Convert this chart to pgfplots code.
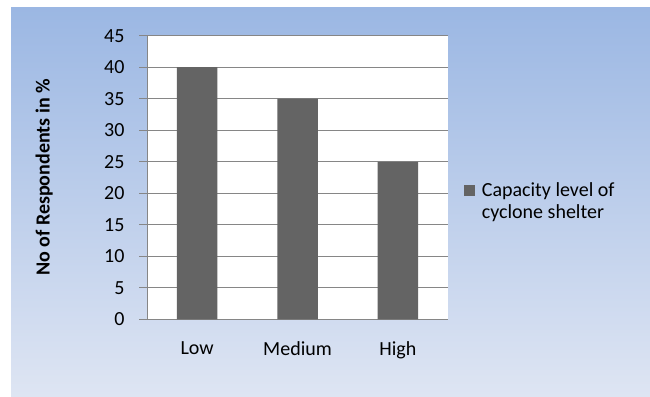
\documentclass[border=0pt]{standalone}
\usepackage{fontspec}
\setmainfont{Carlito}
\usepackage{pgfplots}
\pgfplotsset{compat=1.18}

\definecolor{bgtop}{RGB}{155,183,227}
\definecolor{bgbot}{RGB}{222,229,243}
\definecolor{barcol}{RGB}{100,100,100}
\definecolor{gridcol}{RGB}{134,134,134}

\newcommand{\chartfont}{\fontsize{20bp}{24bp}\selectfont}

\begin{document}
\begin{tikzpicture}[x=1bp,y=1bp]
  \useasboundingbox (0,0) rectangle (650,-396);
  % chart area background
  \shade[top color=bgtop, bottom color=bgbot] (11,-7) rectangle (650,-396);
  \begin{axis}[
    at={(147bp,-319.3bp)}, anchor=south west,
    scale only axis, width=301bp, height=283.6bp,
    ymin=0, ymax=45, ytick={0,5,...,45},
    xmin=-0.5, xmax=2.5,
    xtick={0,1,2}, xticklabels={Low,Medium,High},
    axis x line*=bottom, axis y line*=left,
    axis line style={draw=gridcol, line width=1bp, -},
    ymajorgrids, grid style={draw=gridcol, line width=1bp},
    tick align=outside, major tick length=8bp,
    xtick style={draw=none},
    ytick style={draw=gridcol, line width=1bp},
    axis background/.style={fill=white},
    ticklabel style={font=\chartfont},
    yticklabel style={xshift=-11bp},
    xticklabel style={yshift=-11bp},
    /pgf/number format/assume math mode=true,
    ylabel={No of Respondents in \%},
    ylabel style={font=\chartfont\bfseries,
      at={(axis description cs:-0.342,0.5)}, anchor=center},
    legend cell align=left,
    legend style={at={(1.052,0.4877)}, anchor=north west, draw=none, fill=none,
      font=\chartfont, inner sep=0pt, row sep=0pt,
      nodes={inner sep=0pt, text height=15bp, text depth=7bp},
      /tikz/every odd column/.append style={column sep=7bp}},
  ]
    \addplot[ybar, bar width=40.5bp, fill=barcol, draw=none,
      legend image code/.code={\fill[barcol] (0bp,-4bp) rectangle (11bp,7bp);}]
      coordinates {(0,40) (1,35) (2,25)};
    \addlegendentry{Capacity level of}
    \addlegendimage{empty legend}
    \addlegendentry{cyclone shelter}
  \end{axis}
\end{tikzpicture}
\end{document}
